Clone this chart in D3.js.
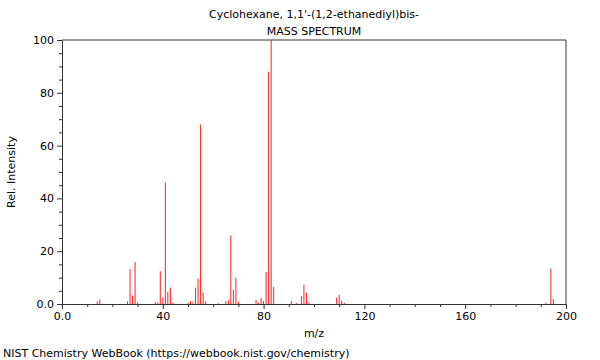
<!DOCTYPE html>
<html><head><meta charset="utf-8">
<script src="https://cdn.jsdelivr.net/npm/d3@7"></script>
<style>body{margin:0;background:#fff}svg{display:block}text{font-family:"DejaVu Sans",sans-serif;fill:#000}</style>
</head><body><svg id="c" width="600" height="360"></svg>
<script>
const titleLines = ["Cyclohexane, 1,1'-(1,2-ethanediyl)bis-", "MASS SPECTRUM"];
const mz = [14,15,26,27,28,29,30,37,38,39,40,41,42,43,44,50,51,52,53,54,55,56,57,62,65,66,67,68,69,70,77,78,79,80,81,82,83,84,91,93,95,96,97,98,109,110,111,112,192,194,195];
const intensity = [1.0,1.6,1.0,13.2,3.2,15.9,0.5,0.8,0.6,12.4,2.4,46,4.7,6.2,0.6,0.5,1.1,0.9,6.2,9.7,68,4.3,1.0,0.3,1.1,1.5,26,5.3,10,0.9,1.5,0.5,2.3,1.1,12.2,88,100,6.4,1.1,0.4,3.0,7.3,4.3,0.6,2.4,3.5,1.3,0.5,0.5,13.4,1.9];
const xTicks = [0,40,80,120,160,200];
const yTicks = [0,20,40,60,80,100];

const svg = d3.select("#c");
const m = {l:62, r:566, t:40, b:304};
const x = d3.scaleLinear().domain([0,200]).range([m.l, m.r]);
const y = d3.scaleLinear().domain([0,100]).range([m.b, m.t]);

svg.selectAll("text.title").data(titleLines).enter().append("text")
  .attr("x", 314).attr("y", (d,i)=>18+i*17).attr("text-anchor","middle")
  .attr("font-size", 11).text(d=>d);

svg.append("g").selectAll("line").data(mz).enter().append("line")
  .attr("x1", d=>x(d)).attr("x2", d=>x(d))
  .attr("y1", y(0)).attr("y2", (d,i)=>y(intensity[i]))
  .attr("stroke", "#ff2020").attr("stroke-width", 1);

svg.append("path").attr("d", `M${m.l},${m.t}H${m.r}V${m.b}`).attr("fill","none").attr("stroke","#333").attr("stroke-width",1);

svg.append("g").attr("transform", `translate(0,${m.b})`)
  .call(d3.axisBottom(x).tickValues(xTicks).tickFormat(d=>d===0?"0.0":d).tickSize(5).tickSizeOuter(0));
svg.append("g").attr("transform", `translate(0,${m.b})`)
  .call(d3.axisBottom(x).tickValues(d3.range(0,201,10).filter(v=>v%40)).tickFormat("").tickSize(3).tickSizeOuter(0))
  .select(".domain").remove();
svg.append("g").attr("transform", `translate(${m.l},0)`)
  .call(d3.axisLeft(y).tickValues(yTicks).tickFormat(d=>d===0?"0.0":d).tickSize(5).tickSizeOuter(0));
svg.append("g").attr("transform", `translate(${m.l},0)`)
  .call(d3.axisLeft(y).tickValues(d3.range(0,101,5).filter(v=>v%20)).tickFormat("").tickSize(3).tickSizeOuter(0))
  .select(".domain").remove();
svg.selectAll(".tick text").attr("font-size", 11).attr("font-family","DejaVu Sans").attr("fill","#000");
svg.selectAll(".domain, .tick line").attr("stroke","#333");

svg.append("text").attr("x", 314).attr("y", 337).attr("text-anchor","middle").attr("font-size",11).text("m/z");
svg.append("text").attr("transform","translate(15,172) rotate(-90)").attr("text-anchor","middle").attr("font-size",11).text("Rel. Intensity");
svg.append("text").attr("x", 3).attr("y", 357).attr("font-size",11).text("NIST Chemistry WebBook (https://webbook.nist.gov/chemistry)");
</script></body></html>
